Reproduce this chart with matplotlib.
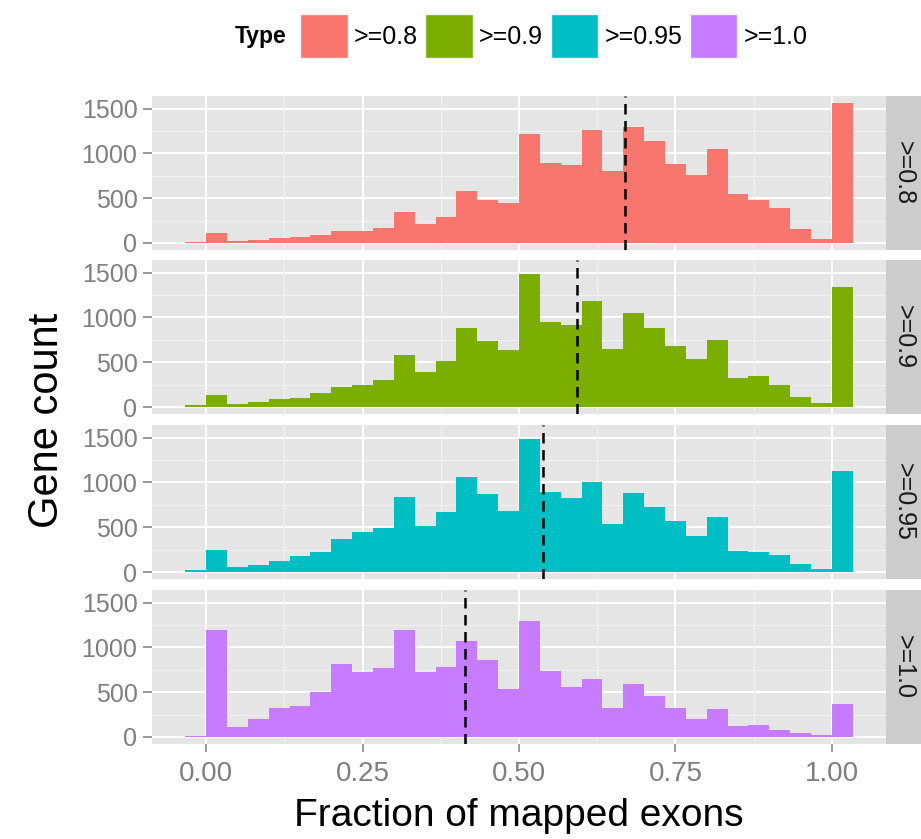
import numpy as np
import matplotlib
matplotlib.use("Agg")
import matplotlib.pyplot as plt
from matplotlib.patches import Patch

plt.rcParams["font.family"] = ["Liberation Sans", "DejaVu Sans"]

# facet levels, fill colours (ggplot default hue) and dashed-line means
types = [">=0.8", ">=0.9", ">=0.95", ">=1.0"]
colors = ["#F8766D", "#7CAE00", "#00BFC4", "#C77CFF"]
means = [0.670, 0.593, 0.539, 0.413]

# histogram bins: width 1/30, first bin starts at -1/30 (32 bins)
binwidth = 1 / 30
bin_left = np.arange(-1, 31) * binwidth

# gene counts per bin
counts_08 = [15, 110, 25, 37, 51, 62, 88, 135, 139, 168, 344, 209, 289, 582, 483, 447,
             1215, 893, 868, 1262, 801, 1295, 1142, 878, 757, 1050, 542, 476, 395, 161, 44, 1563]
counts_09 = [26, 135, 33, 51, 88, 106, 154, 227, 245, 307, 575, 392, 512, 878, 739, 641,
             1490, 948, 915, 1186, 648, 1050, 878, 677, 538, 750, 326, 344, 245, 110, 44, 1343]
counts_095 = [26, 245, 55, 73, 124, 179, 220, 366, 447, 494, 838, 512, 673, 1061, 867, 684,
              1490, 897, 831, 1003, 538, 886, 721, 564, 403, 611, 238, 227, 190, 92, 37, 1124]
counts_10 = [15, 1197, 113, 197, 325, 351, 498, 813, 721, 772, 1197, 728, 776, 1069, 856, 538,
             1299, 739, 563, 644, 326, 593, 457, 326, 205, 318, 124, 135, 81, 40, 26, 373]
all_counts = [counts_08, counts_09, counts_095, counts_10]

x_ticks = [0.0, 0.25, 0.5, 0.75, 1.0]
x_ticklabels = ["0.00", "0.25", "0.50", "0.75", "1.00"]
y_ticks = [0, 500, 1000, 1500]

W, H = 921, 839
fig = plt.figure(figsize=(W / 100, H / 100), dpi=100)

left, right = 152 / W, 886 / W
strip_w = 35 / W
panel_tops = [96, 260, 425, 590]
panel_h = 154

xmin, xmax = bin_left[0], bin_left[-1] + binwidth
xpad = 0.05 * (xmax - xmin)
ymax = max(max(c) for c in all_counts)

for i, (lab, col, mu, cnt) in enumerate(zip(types, colors, means, all_counts)):
    bottom = 1 - (panel_tops[i] + panel_h) / H
    ax = fig.add_axes([left, bottom, right - left, panel_h / H])
    ax.set_facecolor("#E5E5E5")
    ax.bar(bin_left, cnt, width=binwidth, align="edge", color=col, linewidth=0, zorder=2)
    ax.axvline(mu, color="black", linestyle=(0, (4.2, 2.6)), lw=1.8, zorder=3)

    ax.set_xlim(xmin - xpad, xmax + xpad)
    ax.set_ylim(-0.05 * ymax, 1.05 * ymax)
    ax.set_xticks(x_ticks)
    ax.set_xticks([0.125, 0.375, 0.625, 0.875], minor=True)
    ax.set_yticks(y_ticks)
    ax.set_yticks([250, 750, 1250], minor=True)
    ax.grid(True, which="major", color="white", lw=1.5, zorder=1)
    ax.grid(True, which="minor", color="#F2F2F2", lw=0.7, zorder=1)
    ax.set_axisbelow(True)
    for s in ax.spines.values():
        s.set_visible(False)
    ax.tick_params(which="minor", length=0)
    ax.tick_params(axis="y", which="major", length=6.5, width=1.1, color="#7F7F7F",
                   labelcolor="#7F7F7F", labelsize=18, pad=4)
    if i == 3:
        ax.set_xticklabels(x_ticklabels)
        ax.tick_params(axis="x", which="major", length=6, width=1.1, color="#7F7F7F",
                       labelcolor="#7F7F7F", labelsize=20, pad=6)
        ax.set_xlabel("Fraction of mapped exons", fontsize=28, labelpad=8)
    else:
        ax.tick_params(axis="x", which="major", length=0, labelbottom=False)

    # facet strip on the right
    sax = fig.add_axes([right, bottom, strip_w, panel_h / H])
    sax.set_facecolor("#CCCCCC")
    sax.set_xticks([])
    sax.set_yticks([])
    for s in sax.spines.values():
        s.set_visible(False)
    sax.text(0.5, 0.5, lab, rotation=-90, ha="center", va="center", fontsize=18,
             color="#1A1A1A", transform=sax.transAxes)

fig.text(47 / W, 1 - 420 / H, "Gene count", rotation=90, ha="center", va="center", fontsize=30)

# legend on top
fig.text(235 / W, 1 - 37 / H, "Type", ha="left", va="center", fontsize=16.5, fontweight="bold")
handles = [Patch(facecolor=c, edgecolor="#F2F2F2", linewidth=1) for c in colors]
fig.legend(handles, types, loc="center left", bbox_to_anchor=(300 / W, 1 - 36 / H),
           ncol=4, frameon=False, fontsize=18, handlelength=1.9, handleheight=2.3,
           handletextpad=0.25, columnspacing=0.3, borderpad=0, borderaxespad=0)

fig.savefig("out.png", dpi=100)
